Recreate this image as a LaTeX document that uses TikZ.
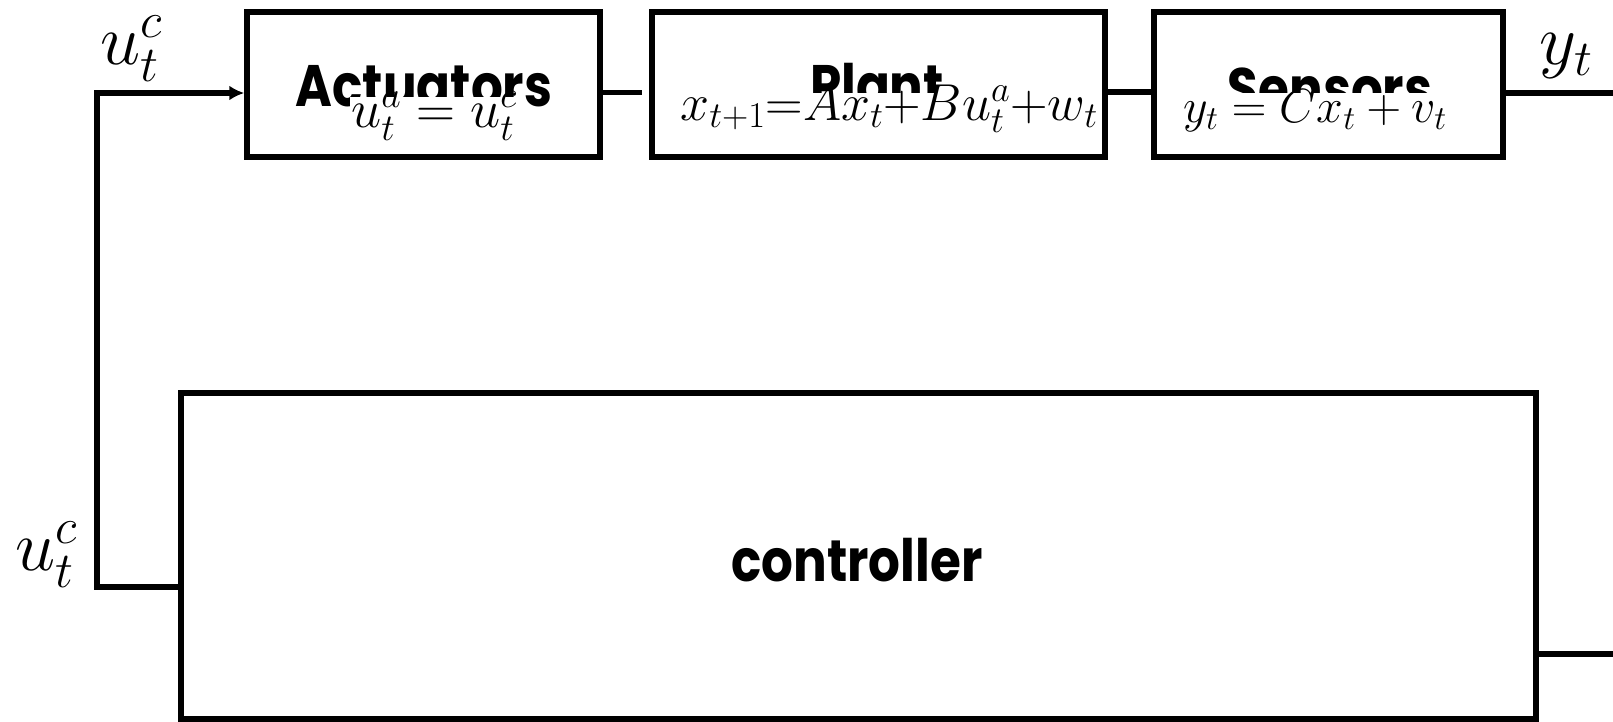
\documentclass[tikz,border=0pt]{standalone}
\usepackage{fix-cm}
\usepackage{fontspec}
\setsansfont{Poppins}
\usetikzlibrary{arrows.meta,positioning}

\begin{document}
\begin{tikzpicture}[x=1pt,y=-1pt,
    block/.style={draw, line width=5.5pt, minimum width=#1, minimum height=145pt, inner sep=0pt},
    title/.style={font=\fontsize{50}{60}\selectfont\sffamily\bfseries, inner sep=0pt, anchor=base,
        yscale=1.17, transform shape},
    eqn/.style={fill=white, inner xsep=1pt, inner ysep=0pt, anchor=base},
    lbl/.style={inner sep=0pt, font=\fontsize{72}{80}\selectfont},
    wire/.style={line width=5.5pt}]
    \useasboundingbox (0,0) rectangle (1613,721);
    % forward path
    \node[block=353pt] (act) at (423.5,84.5) {};
    \node[block=453pt] (plant) at (878.5,84.5) {};
    \node[block=349pt] (sens) at (1328.5,84.5) {};
    \node[title] (actT) at (424,106) {Actuators};
    \node[eqn, text height=30pt, font=\fontsize{54}{60}\selectfont] (actE) at (434,127) {$u_t^a = u_t^c$};
    \node[title] (plantT) at (877,106) {Plant};
    \node[eqn, text height=27pt, font=\fontsize{52}{60}\selectfont] (plantE) at (889,120) {$x_{t+1}{=}Ax_t{+}Bu_t^a{+}w_t$};
    \node[title] (sensT) at (1330,109) {Sensors};
    \node[eqn, text height=29pt, font=\fontsize{48}{60}\selectfont] (sensE) at (1315,122) {$y_t = Cx_t + v_t$};
    % controller
    \node[block=1355pt, minimum height=326pt] (ctrl) at (858.5,556) {};
    \node[title] (ctrlT) at (857,581) {controller};
    % signals
    \node[lbl] (ucA) at (131,49) {$u_t^c$};
    \node[lbl] (ucB) at (46,555) {$u_t^c$};
    \node[lbl] (yt) at (1566,56) {$y_t$};
    \coordinate (fb) at (97,587);
    \coordinate (yout) at (1613,93);
    \coordinate (uout) at (1613,654);
    \draw[wire, -{Latex[length=15pt,width=15pt]}] ([yshift=-31pt]ctrl.west) -- (fb) |- ([yshift=-8.5pt]act.west);
    \draw[wire, shorten >=7pt] ([yshift=-8pt]act.east) -- ([yshift=-8pt]plant.west);
    \draw[wire] ([yshift=-7.5pt]plant.east) -- ([yshift=-7.5pt]sens.west);
    \draw[wire] ([yshift=-8.5pt]sens.east) -- (yout);
    \draw[wire] ([yshift=-98pt]ctrl.east) -- (uout);
\end{tikzpicture}
\end{document}
